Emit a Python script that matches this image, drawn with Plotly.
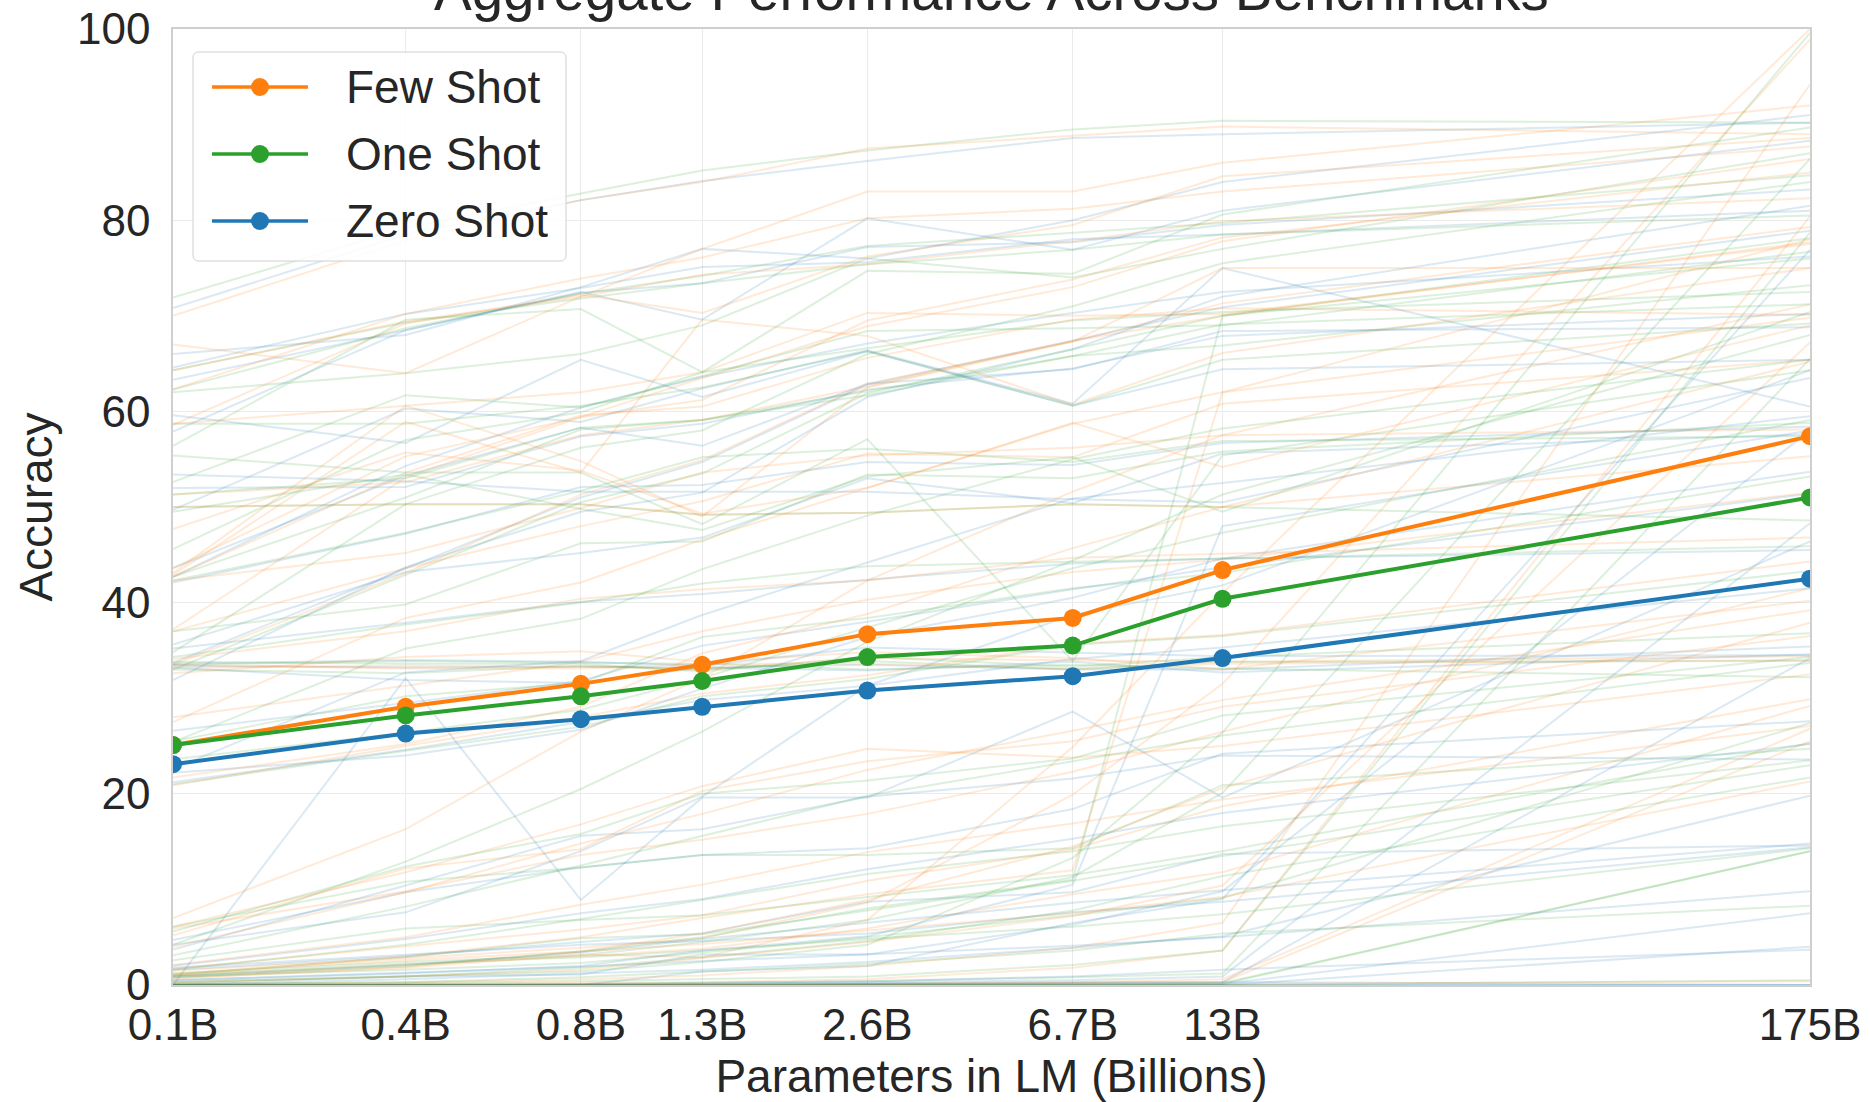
import plotly.graph_objects as go

# model sizes (billions of parameters) and their tick labels
sizes = [0.125, 0.35, 0.76, 1.3, 2.7, 6.7, 13, 175]
size_labels = ["0.1B", "0.4B", "0.8B", "1.3B", "2.6B", "6.7B", "13B", "175B"]

# aggregate accuracy per setting
few_shot = [25.1, 29.1, 31.5, 33.5, 36.7, 38.4, 43.4, 57.4]
one_shot = [25.1, 28.2, 30.2, 31.8, 34.3, 35.5, 40.4, 51.0]
zero_shot = [23.1, 26.3, 27.8, 29.1, 30.8, 32.3, 34.2, 42.5]

# individual benchmarks (faint background lines), one row per benchmark
bg_zero_shot = [
    [70.8, 78.5, 82.1, 84.1, 86.2, 88.6, 89.0, 90.2],
    [63.3, 68.5, 72.4, 73.4, 77.2, 77.7, 79.5, 83.2],
    [64.6, 70.2, 72.9, 75.1, 75.6, 78.0, 78.5, 81.0],
    [66.0, 68.0, 73.0, 77.0, 76.0, 80.0, 84.0, 91.0],
    [33.7, 43.6, 51.0, 54.7, 62.8, 67.4, 70.9, 78.9],
    [42.7, 54.3, 60.4, 63.6, 67.1, 70.3, 72.5, 76.2],
    [52.0, 52.1, 57.4, 58.7, 62.3, 64.5, 67.9, 70.2],
    [57.9, 68.5, 72.5, 69.6, 80.2, 76.9, 81.0, 88.3],
    [43.6, 53.3, 58.3, 56.4, 62.9, 64.4, 68.4, 68.8],
    [26.6, 29.5, 31.8, 35.5, 38.0, 41.4, 43.7, 51.4],
    [35.6, 43.2, 45.2, 46.8, 53.0, 50.4, 55.6, 57.6],
    [35.2, 37.9, 40.1, 40.9, 42.4, 44.1, 44.6, 45.5],
    [42.1, 47.2, 52.1, 52.3, 54.7, 54.4, 56.7, 58.4],
    [49.7, 60.3, 58.9, 62.4, 66.4, 60.8, 75.0, 60.5],
    [0.0, 32.1, 8.9, 19.6, 19.6, 28.6, 19.6, 46.4],
    [53.4, 52.7, 51.6, 51.6, 51.6, 50.8, 50.5, 63.5],
    [0.0, 0.0, 0.0, 0.0, 0.0, 0.0, 0.0, 0.0],
    [59.6, 56.7, 65.4, 61.5, 66.3, 60.6, 64.4, 65.4],
    [4.7, 9.7, 12.3, 13.6, 14.3, 18.4, 24.2, 27.6],
    [33.4, 33.2, 33.3, 33.2, 32.9, 33.8, 32.7, 34.6],
    [33.2, 31.9, 31.6, 33.2, 33.5, 33.0, 33.0, 35.4],
    [33.6, 34.0, 33.8, 33.4, 35.3, 34.8, 34.4, 34.5],
    [4.2, 7.6, 14.0, 19.7, 31.3, 38.7, 41.8, 64.3],
    [1.6, 3.0, 4.5, 5.4, 8.7, 9.7, 13.7, 14.6],
    [1.8, 3.2, 4.2, 4.6, 5.4, 7.6, 8.7, 14.4],
    [31.9, 43.7, 49.5, 51.5, 61.5, 66.5, 72.0, 81.5],
    [3.7, 10.4, 15.6, 16.3, 19.7, 21.6, 24.0, 23.6],
    [21.2, 24.6, 27.5, 29.8, 31.3, 34.1, 35.3, 41.5],
    [22.6, 32.7, 33.9, 38.7, 44.2, 50.9, 52.5, 59.5],
    [22.2, 24.0, 26.7, 31.0, 36.4, 40.5, 44.6, 53.7],
    [0.0, 0.1, 0.0, 1.4, 2.0, 6.5, 9.0, 76.9],
    [0.1, 0.9, 1.1, 3.2, 3.2, 6.3, 9.8, 58.0],
    [0.0, 0.0, 0.0, 0.1, 0.2, 0.3, 0.3, 34.2],
    [0.0, 0.0, 0.1, 0.1, 0.3, 0.5, 0.9, 48.3],
    [0.0, 0.0, 0.0, 0.0, 0.0, 0.0, 0.0, 4.0],
    [0.0, 0.0, 0.0, 0.0, 0.0, 0.0, 0.1, 7.5],
    [0.0, 0.6, 1.2, 1.6, 2.4, 3.9, 5.1, 19.8],
    [0.5, 1.3, 1.9, 2.5, 3.2, 4.1, 5.0, 9.8],
    [0.0, 0.0, 0.1, 0.2, 0.4, 0.9, 1.6, 3.7],
    [0.0, 0.0, 0.0, 0.0, 0.1, 0.2, 0.3, 0.0],
    [0.0, 0.0, 0.0, 0.0, 0.0, 0.0, 0.0, 0.0],
    [2.0, 4.8, 7.5, 9.0, 12.1, 15.3, 18.0, 25.2],
    [0.9, 2.1, 3.4, 4.8, 6.5, 8.6, 9.9, 14.8],
    [0.5, 1.2, 2.0, 3.6, 5.1, 10.5, 48.0, 58.0],
]
bg_one_shot = [
    [71.9, 79.2, 82.8, 85.2, 87.3, 89.5, 90.4, 90.2],
    [62.3, 68.7, 72.3, 74.2, 77.3, 78.7, 79.7, 84.7],
    [64.3, 69.3, 71.8, 73.4, 75.4, 76.9, 78.5, 80.5],
    [62.0, 64.0, 66.0, 69.0, 76.0, 74.0, 77.0, 87.0],
    [33.0, 42.9, 50.5, 53.5, 61.9, 66.5, 70.0, 78.1],
    [45.6, 57.0, 59.9, 64.1, 66.6, 69.5, 70.4, 72.5],
    [51.3, 53.0, 58.3, 59.1, 61.7, 65.8, 66.9, 73.2],
    [56.4, 69.6, 70.7, 64.1, 74.7, 74.4, 80.6, 89.7],
    [42.7, 51.0, 58.1, 59.1, 62.1, 65.8, 69.1, 71.2],
    [25.5, 30.2, 31.6, 36.4, 38.4, 41.5, 43.1, 53.2],
    [37.0, 39.8, 46.2, 46.4, 53.4, 53.0, 55.8, 58.8],
    [34.3, 37.7, 40.0, 42.0, 43.8, 44.3, 44.6, 45.9],
    [42.3, 47.3, 51.7, 55.2, 56.1, 54.7, 56.9, 57.4],
    [52.6, 61.7, 60.4, 63.7, 68.4, 68.7, 69.0, 76.7],
    [55.4, 53.6, 53.6, 48.2, 57.1, 33.9, 55.4, 64.3],
    [49.5, 53.4, 49.8, 47.6, 53.2, 55.2, 49.5, 70.4],
    [50.0, 50.3, 50.3, 49.2, 49.4, 50.3, 50.0, 48.6],
    [58.7, 58.7, 60.6, 62.5, 66.3, 60.6, 65.4, 69.2],
    [6.1, 10.8, 12.3, 13.6, 13.6, 14.3, 20.9, 24.7],
    [33.0, 32.6, 33.4, 33.0, 33.9, 33.0, 33.8, 33.9],
    [33.5, 33.9, 33.7, 33.6, 33.0, 33.5, 33.1, 32.2],
    [33.8, 33.6, 33.6, 32.8, 34.3, 33.3, 34.3, 36.8],
    [4.2, 12.9, 20.5, 26.5, 35.9, 44.4, 51.3, 68.0],
    [1.1, 2.9, 4.9, 5.3, 7.8, 10.9, 13.5, 23.0],
    [2.6, 5.9, 6.8, 7.3, 9.2, 11.5, 14.0, 25.3],
    [34.8, 50.3, 56.2, 58.0, 66.0, 71.0, 75.5, 84.0],
    [5.6, 12.4, 15.8, 20.0, 21.4, 23.7, 28.2, 34.3],
    [21.0, 24.5, 27.0, 30.2, 32.0, 35.6, 36.5, 43.3],
    [25.4, 35.2, 38.3, 43.5, 49.1, 55.0, 58.2, 65.4],
    [23.6, 26.4, 28.8, 32.1, 37.4, 43.6, 47.3, 59.1],
    [0.3, 0.9, 1.4, 2.4, 4.2, 13.3, 26.4, 99.6],
    [1.2, 2.4, 3.1, 4.5, 6.8, 11.3, 20.1, 86.4],
    [0.0, 0.0, 0.1, 0.2, 0.4, 0.8, 1.2, 65.5],
    [0.1, 0.2, 0.4, 0.6, 0.9, 2.1, 3.6, 78.7],
    [0.0, 0.0, 0.0, 0.0, 0.1, 0.1, 0.1, 14.0],
    [0.0, 0.0, 0.0, 0.0, 0.1, 0.1, 0.2, 14.0],
    [0.9, 1.6, 2.3, 3.4, 5.0, 7.3, 9.1, 27.4],
    [1.0, 2.2, 2.9, 3.6, 4.8, 6.1, 7.4, 14.3],
    [0.3, 0.9, 1.8, 2.9, 4.6, 7.8, 11.4, 21.7],
    [0.1, 0.3, 0.8, 1.4, 2.2, 3.6, 5.4, 8.3],
    [0.0, 0.0, 0.0, 0.0, 0.0, 0.0, 0.0, 0.5],
    [3.1, 8.2, 12.5, 15.6, 19.8, 23.4, 26.1, 33.7],
    [1.6, 4.2, 6.9, 8.9, 11.6, 14.0, 16.6, 23.5],
    [0.8, 2.0, 3.5, 5.0, 8.0, 11.0, 70.0, 76.0],
]
bg_few_shot = [
    [70.0, 77.9, 82.1, 84.0, 87.5, 88.8, 89.8, 89.0],
    [62.3, 70.2, 73.9, 76.1, 80.2, 81.2, 83.0, 87.7],
    [64.3, 69.4, 72.0, 74.3, 75.4, 77.8, 79.9, 82.3],
    [67.0, 64.0, 72.0, 77.0, 83.0, 83.0, 86.0, 92.0],
    [33.5, 43.1, 51.3, 54.9, 62.9, 67.3, 71.3, 79.3],
    [43.6, 55.3, 59.4, 63.5, 68.9, 73.0, 77.8, 86.4],
    [51.3, 52.6, 57.5, 59.1, 62.6, 67.4, 70.0, 77.7],
    [58.6, 69.2, 72.2, 70.3, 76.2, 79.5, 84.6, 88.6],
    [42.7, 53.6, 59.6, 60.5, 65.6, 69.6, 70.8, 70.1],
    [28.0, 31.3, 33.8, 37.0, 40.3, 43.2, 44.5, 51.5],
    [37.0, 43.6, 48.0, 50.6, 55.6, 55.2, 60.8, 65.4],
    [34.1, 37.0, 40.4, 41.4, 42.3, 44.7, 45.1, 46.8],
    [42.3, 45.2, 49.9, 53.6, 55.4, 56.2, 57.5, 58.1],
    [43.1, 60.6, 62.0, 64.1, 70.3, 70.0, 70.2, 77.5],
    [42.9, 58.9, 53.6, 69.6, 67.9, 60.7, 66.1, 75.0],
    [47.7, 55.7, 53.8, 49.3, 52.0, 58.8, 54.2, 69.0],
    [50.0, 50.3, 50.3, 49.2, 49.4, 50.3, 50.0, 55.3],
    [58.7, 60.6, 54.8, 49.0, 62.5, 67.3, 75.0, 75.0],
    [6.1, 11.8, 16.8, 20.8, 24.7, 23.8, 25.0, 32.5],
    [33.2, 33.4, 33.3, 33.0, 34.2, 34.0, 33.8, 34.4],
    [33.5, 33.1, 33.1, 33.6, 33.6, 33.1, 33.6, 34.0],
    [32.6, 34.3, 34.9, 33.8, 34.8, 34.2, 33.0, 40.2],
    [7.0, 16.3, 26.5, 32.1, 42.3, 51.6, 57.5, 71.2],
    [1.7, 4.0, 5.8, 7.3, 10.9, 14.2, 18.7, 29.9],
    [5.9, 9.8, 13.6, 15.2, 17.9, 22.3, 26.5, 41.5],
    [37.2, 53.1, 59.4, 61.2, 69.5, 73.8, 78.2, 85.0],
    [5.2, 12.2, 14.2, 20.3, 23.4, 25.5, 29.1, 36.5],
    [20.9, 25.0, 28.0, 30.5, 32.4, 35.7, 36.6, 44.3],
    [27.5, 38.4, 42.1, 46.6, 52.0, 58.7, 62.0, 69.8],
    [21.7, 25.2, 29.1, 34.7, 38.8, 45.7, 50.0, 65.2],
    [0.7, 1.8, 3.2, 2.9, 6.8, 24.9, 41.0, 100.0],
    [1.5, 2.8, 3.9, 4.9, 8.6, 19.9, 31.5, 98.9],
    [0.0, 0.1, 0.2, 0.3, 0.6, 1.8, 3.6, 80.4],
    [0.1, 0.3, 0.6, 1.0, 2.0, 3.9, 6.5, 94.2],
    [0.0, 0.0, 0.0, 0.0, 0.1, 0.2, 0.3, 25.5],
    [0.0, 0.0, 0.0, 0.1, 0.1, 0.3, 0.6, 26.8],
    [1.0, 2.1, 3.0, 3.8, 5.9, 9.5, 11.8, 29.2],
    [1.2, 2.6, 3.5, 4.3, 5.7, 7.5, 9.2, 21.3],
    [0.7, 1.9, 3.5, 5.4, 8.9, 14.5, 20.6, 37.9],
    [0.3, 0.9, 1.6, 2.8, 4.5, 7.2, 10.4, 67.2],
    [0.0, 0.0, 0.0, 0.0, 0.0, 0.1, 0.1, 0.4],
    [4.0, 9.7, 14.8, 17.9, 22.5, 26.6, 29.8, 39.2],
    [2.1, 5.0, 8.4, 10.5, 13.9, 16.9, 19.4, 27.1],
    [1.0, 3.0, 5.0, 7.0, 9.5, 12.0, 62.0, 78.0],
]

ORANGE = "#ff7f0e"
GREEN = "#2ca02c"
BLUE = "#1f77b4"
FAINT = {ORANGE: "rgba(255,127,14,0.16)", GREEN: "rgba(44,160,44,0.16)",
         BLUE: "rgba(31,119,180,0.16)"}
FONT = "Liberation Sans, Arial, sans-serif"
TXT = "#262626"

W, H = 1870, 1102
L, R, T, B = 173, 60, 29, 117


def px_x(px):
    return (px - L) / (W - L - R)


def px_y(py):
    return (H - B - py) / (H - T - B)


fig = go.Figure()

for z, o, f in zip(bg_zero_shot, bg_one_shot, bg_few_shot):
    for vals, col in ((z, BLUE), (o, GREEN), (f, ORANGE)):
        fig.add_trace(go.Scatter(x=sizes, y=vals, mode="lines",
                                 line=dict(color=FAINT[col], width=2),
                                 showlegend=False, hoverinfo="skip"))

series = [("Few Shot", few_shot, ORANGE), ("One Shot", one_shot, GREEN),
          ("Zero Shot", zero_shot, BLUE)]
for name, vals, col in series:
    fig.add_trace(go.Scatter(x=sizes, y=vals, mode="lines+markers", name=name,
                             line=dict(color=col, width=4),
                             marker=dict(color=col, size=18),
                             showlegend=False))

# legend drawn by hand so the sample lines match the matplotlib look
shapes = [dict(type="path", xref="paper", yref="paper",
               path="M {0},{1} L {2},{1} Q {3},{1} {3},{4} L {3},{5} Q {3},{6} {2},{6} "
                    "L {0},{6} Q {7},{6} {7},{5} L {7},{4} Q {7},{1} {0},{1} Z".format(
                        px_x(199), px_y(52), px_x(560), px_x(566), px_y(58),
                        px_y(255), px_y(261), px_x(193)),
               fillcolor="rgba(255,255,255,0.85)",
               line=dict(color="#d0d0d0", width=1))]
annotations = []
for i, (name, vals, col) in enumerate(series):
    ry = 87 + i * 67
    shapes.append(dict(type="line", xref="paper", yref="paper",
                       x0=px_x(212), x1=px_x(308), y0=px_y(ry), y1=px_y(ry),
                       line=dict(color=col, width=3.5)))
    shapes.append(dict(type="circle", xref="paper", yref="paper",
                       x0=px_x(251), x1=px_x(269), y0=px_y(ry + 9), y1=px_y(ry - 9),
                       fillcolor=col, line=dict(color=col, width=0)))
    annotations.append(dict(xref="paper", yref="paper", x=px_x(344), y=px_y(ry),
                            xanchor="left", yanchor="middle", text=name,
                            showarrow=False, font=dict(size=46, color=TXT, family=FONT)))

annotations.append(dict(xref="paper", yref="paper", x=0.5, y=1, yanchor="bottom",
                        yshift=5, showarrow=False,
                        text="Aggregate Performance Across Benchmarks",
                        font=dict(size=56.5, color=TXT, family=FONT)))

fig.update_layout(
    width=W, height=H,
    margin=dict(l=L, r=R, t=T, b=B),
    paper_bgcolor="white", plot_bgcolor="white",
    font=dict(family=FONT, color=TXT),
    shapes=shapes, annotations=annotations,
    showlegend=False,
)
fig.update_xaxes(
    type="log", range=[-0.90309, 2.243038],
    tickvals=sizes, ticktext=size_labels,
    tickfont=dict(size=44, color=TXT), ticklabelstandoff=0,
    showgrid=True, gridcolor="#ebebeb", gridwidth=1,
    showline=True, linecolor="#cfcfcf", linewidth=1.5, mirror=True,
    zeroline=False, ticks="",
    title=dict(text="Parameters in LM (Billions)", font=dict(size=46, color=TXT),
               standoff=20),
    automargin=False,
)
fig.update_yaxes(
    range=[0, 100], tickvals=[0, 20, 40, 60, 80, 100],
    tickfont=dict(size=44, color=TXT), ticklabelstandoff=12,
    showgrid=True, gridcolor="#ebebeb", gridwidth=1,
    showline=True, linecolor="#cfcfcf", linewidth=1.5, mirror=True,
    zeroline=False, ticks="",
    title=dict(text="Accuracy", font=dict(size=46, color=TXT), standoff=10),
    automargin=False,
)

# the page's default body margin would shift the figure by 8px
fig.write_html("out.html", config={"displayModeBar": False},
               post_script="document.body.style.margin='0px';")
